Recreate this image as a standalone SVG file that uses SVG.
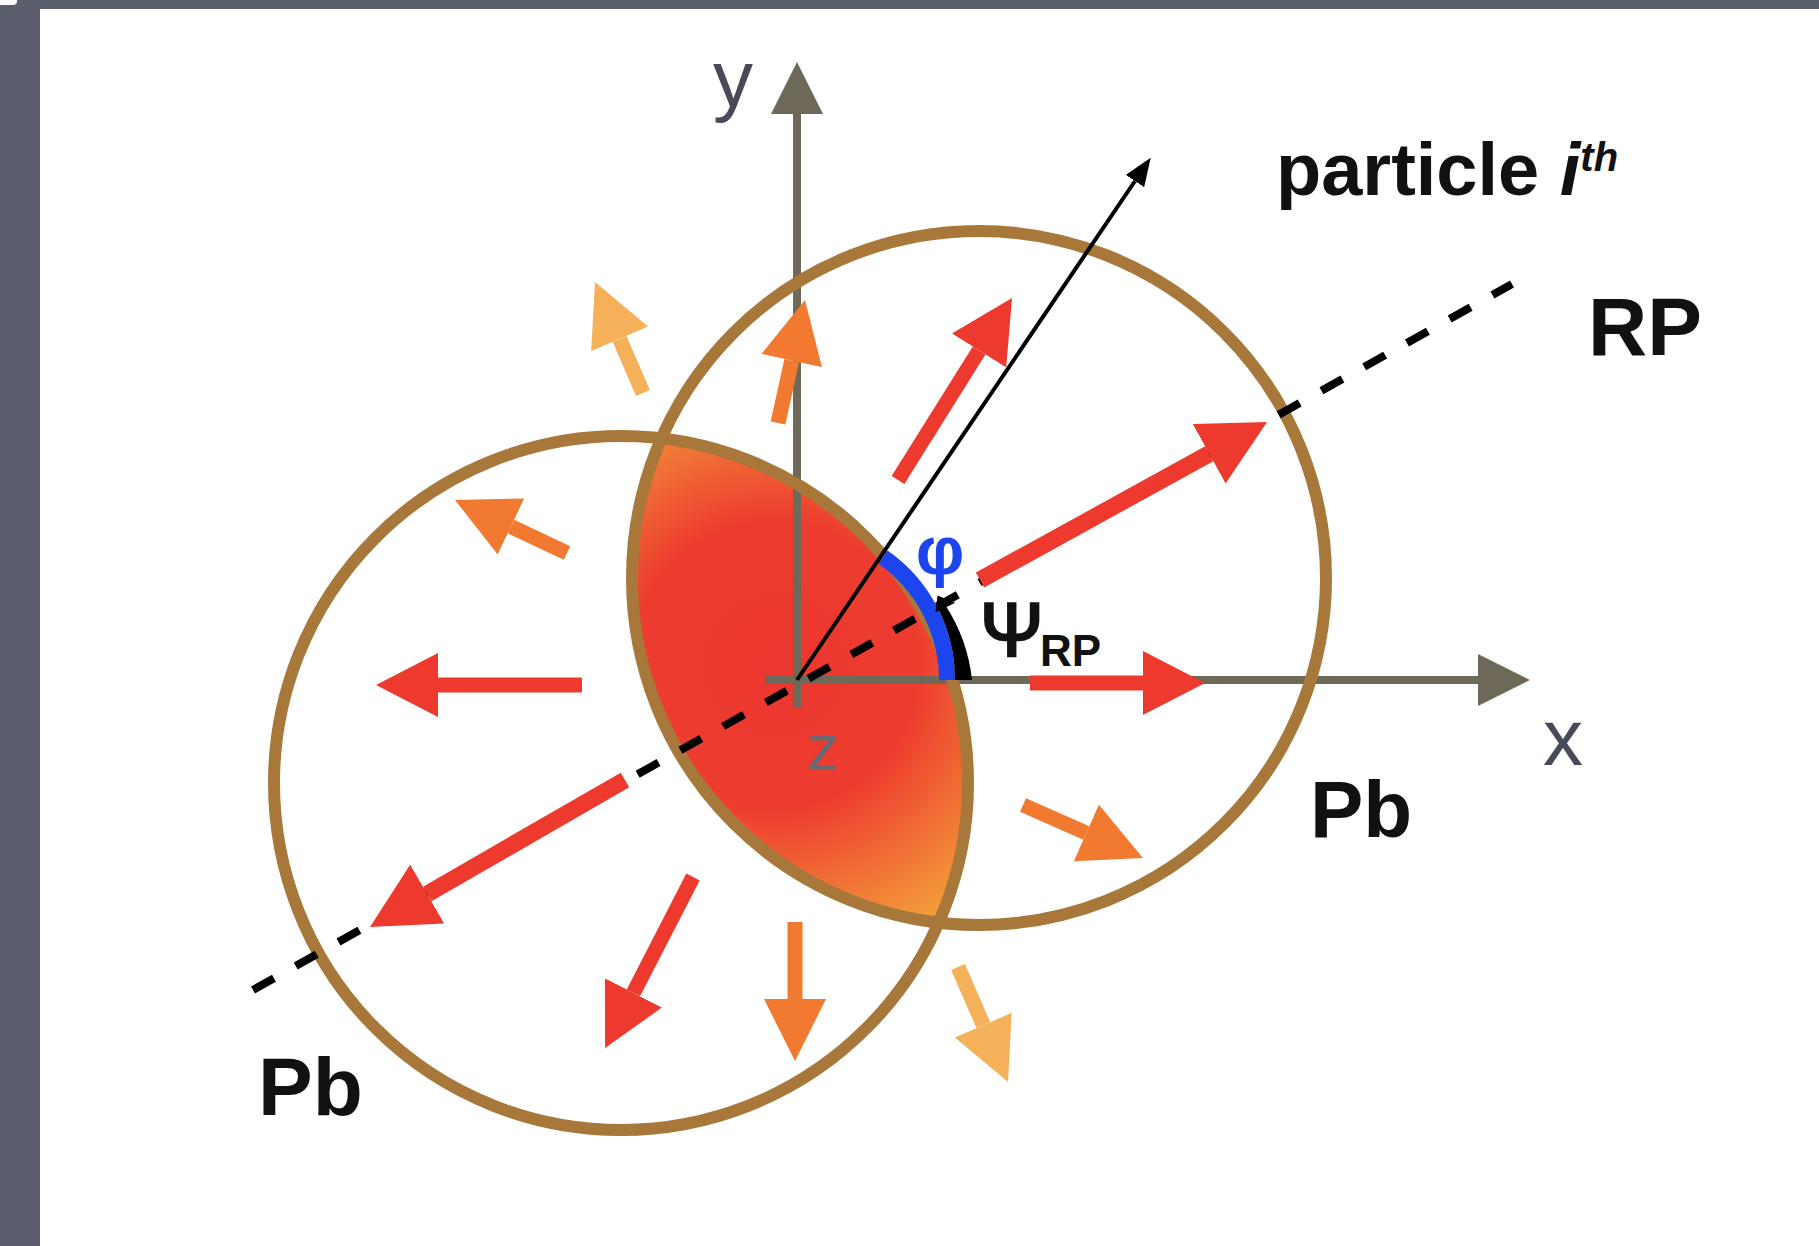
<svg xmlns="http://www.w3.org/2000/svg" width="1819" height="1246" viewBox="0 0 1819 1246">
<style>
  .lbl { font-family: "Liberation Sans", Arial, sans-serif; }
  .b { font-weight: bold; fill: #111; }
  .ring { fill: none; stroke: #a8783b; stroke-width: 12; }
  .axis { stroke: #6d6858; stroke-width: 8; fill: none; }
  .red { stroke: #ee3a2e; stroke-width: 15; fill: none; }
  .redb { stroke: #ee3a2e; stroke-width: 17; fill: none; }
  .org { stroke: #f17a30; stroke-width: 15; fill: none; }
  .lor { stroke: #f5b15a; stroke-width: 15; fill: none; }
  .axlbl { font-size: 80px; fill: #474a58; }
</style>
<defs>
  <radialGradient id="almond" gradientUnits="userSpaceOnUse" cx="775" cy="665" r="290">
    <stop offset="0" stop-color="#ec3630"/>
    <stop offset="0.5" stop-color="#ed3d2f"/>
    <stop offset="1" stop-color="#f39a3a"/>
  </radialGradient>
  <marker id="hRed" markerUnits="userSpaceOnUse" markerWidth="70" markerHeight="70" refX="0" refY="32" orient="auto" viewBox="0 0 70 70">
    <path d="M0,0 L62,32 L0,64 z" fill="#ee3a2e"/>
  </marker>
  <marker id="hRedB" markerUnits="userSpaceOnUse" markerWidth="70" markerHeight="70" refX="0" refY="34" orient="auto" viewBox="0 0 70 70">
    <path d="M0,0 L66,34 L0,68 z" fill="#ee3a2e"/>
  </marker>
  <marker id="hOrg" markerUnits="userSpaceOnUse" markerWidth="70" markerHeight="70" refX="0" refY="31" orient="auto" viewBox="0 0 70 70">
    <path d="M0,0 L62,31 L0,62 z" fill="#f17a30"/>
  </marker>
  <marker id="hLor" markerUnits="userSpaceOnUse" markerWidth="70" markerHeight="70" refX="0" refY="31" orient="auto" viewBox="0 0 70 70">
    <path d="M0,0 L62,31 L0,62 z" fill="#f5b15a"/>
  </marker>
  <marker id="hAxis" markerUnits="userSpaceOnUse" markerWidth="60" markerHeight="60" refX="0" refY="26" orient="auto" viewBox="0 0 60 60">
    <path d="M0,0 L52,26 L0,52 z" fill="#6d6858"/>
  </marker>
  <marker id="hBlk" markerUnits="userSpaceOnUse" markerWidth="30" markerHeight="30" refX="0" refY="11" orient="auto" viewBox="0 0 30 30">
    <path d="M0,0 L28,11 L0,22 z" fill="#000"/>
  </marker>
</defs>

<g id="frame">
  <rect x="0" y="0" width="1819" height="1246" fill="#ffffff"/>
  <rect x="0" y="0" width="40" height="1246" fill="#5a5e6c"/>
  <rect x="0" y="0" width="1819" height="9" fill="#5a5e6c"/>
  <rect x="-6" y="-6" width="23" height="11" rx="4" fill="#ffffff"/>
</g>

<g id="overlap">
  <path d="M661.3,438.3 A347,347 0 0 1 938.7,922.7 A347,347 0 0 1 661.3,438.3 Z" fill="url(#almond)"/>
</g>

<g id="axes">
  <line class="axis" x1="765" y1="680" x2="1478" y2="680" marker-end="url(#hAxis)"/>
  <line class="axis" x1="797" y1="708" x2="797" y2="114" marker-end="url(#hAxis)"/>
</g>

<g id="nuclei">
  <circle id="nucleus-left" class="ring" cx="621" cy="783" r="347"/>
  <circle id="nucleus-right" class="ring" cx="979" cy="578" r="347"/>
</g>

<g id="reaction-plane">
  <line x1="253" y1="990" x2="1512" y2="284" stroke="#000" stroke-width="8" stroke-dasharray="24 25"/>
</g>

<g id="angles">
  <path id="phi-arc" d="M947,680 A150,150 0 0 0 883,557.1" fill="none" stroke="#1d45ee" stroke-width="16"/>
  <path id="psi-arc" d="M955,680 A158,158 0 0 0 937.8,608.3 L944.9,604.6 A170,170 0 0 1 972,680 Z" fill="#000"/>
  <polygon points="937.6,595.5 935.4,612.5 955.2,602.8" fill="#000"/>
</g>

<g id="connectors">
  <line id="particle-dir" x1="797" y1="680" x2="1135" y2="181" stroke="#000" stroke-width="4" marker-end="url(#hBlk)"/>
  <line class="lor" x1="643" y1="393" x2="619.6" y2="338.9" marker-end="url(#hLor)"/>
  <line class="org" x1="778" y1="423" x2="791.7" y2="360.6" marker-end="url(#hOrg)"/>
  <line class="red" x1="898" y1="480" x2="979.1" y2="350.5" marker-end="url(#hRed)"/>
  <line class="redb" x1="980" y1="580" x2="1209.2" y2="453.8" marker-end="url(#hRedB)"/>
  <line class="red" x1="1030" y1="683" x2="1143" y2="683" marker-end="url(#hRed)"/>
  <line class="org" x1="1023" y1="805" x2="1086.3" y2="833" marker-end="url(#hOrg)"/>
  <line class="lor" x1="958" y1="967" x2="983.3" y2="1025.1" marker-end="url(#hLor)"/>
  <line class="org" x1="795" y1="922" x2="795" y2="999" marker-end="url(#hOrg)"/>
  <line class="red" x1="693" y1="877" x2="633.4" y2="992.9" marker-end="url(#hRed)"/>
  <line class="redb" x1="625" y1="780" x2="427.2" y2="894" marker-end="url(#hRedB)"/>
  <line class="red" x1="582" y1="685" x2="438" y2="685" marker-end="url(#hRed)"/>
  <line class="org" x1="567" y1="553" x2="511" y2="526.5" marker-end="url(#hOrg)"/>
</g>

<g id="labels">
  <text class="lbl axlbl" x="713" y="106">y</text>
  <text class="lbl axlbl" x="1543" y="765">x</text>
  <text class="lbl" x="823" y="770" font-size="64" fill="#6b6770" text-anchor="middle">z</text>
  <text class="lbl" x="940" y="574" font-size="68" font-weight="bold" fill="#1d45ee" text-anchor="middle">φ</text>
  <text class="lbl" x="980" y="656" font-size="76" fill="#111" stroke="#111" stroke-width="2.5">Ψ<tspan font-size="44" font-weight="bold" stroke-width="0" x="1040" y="666">RP</tspan></text>
  <text class="lbl b" x="1276" y="195" font-size="74">particle <tspan font-style="italic">i</tspan><tspan font-style="italic" font-size="40" dy="-24">th</tspan></text>
  <text class="lbl b" x="1588" y="355" font-size="82">RP</text>
  <text class="lbl b" x="1310" y="837" font-size="80">Pb</text>
  <text class="lbl b" x="258" y="1115" font-size="82">Pb</text>
</g>
</svg>
